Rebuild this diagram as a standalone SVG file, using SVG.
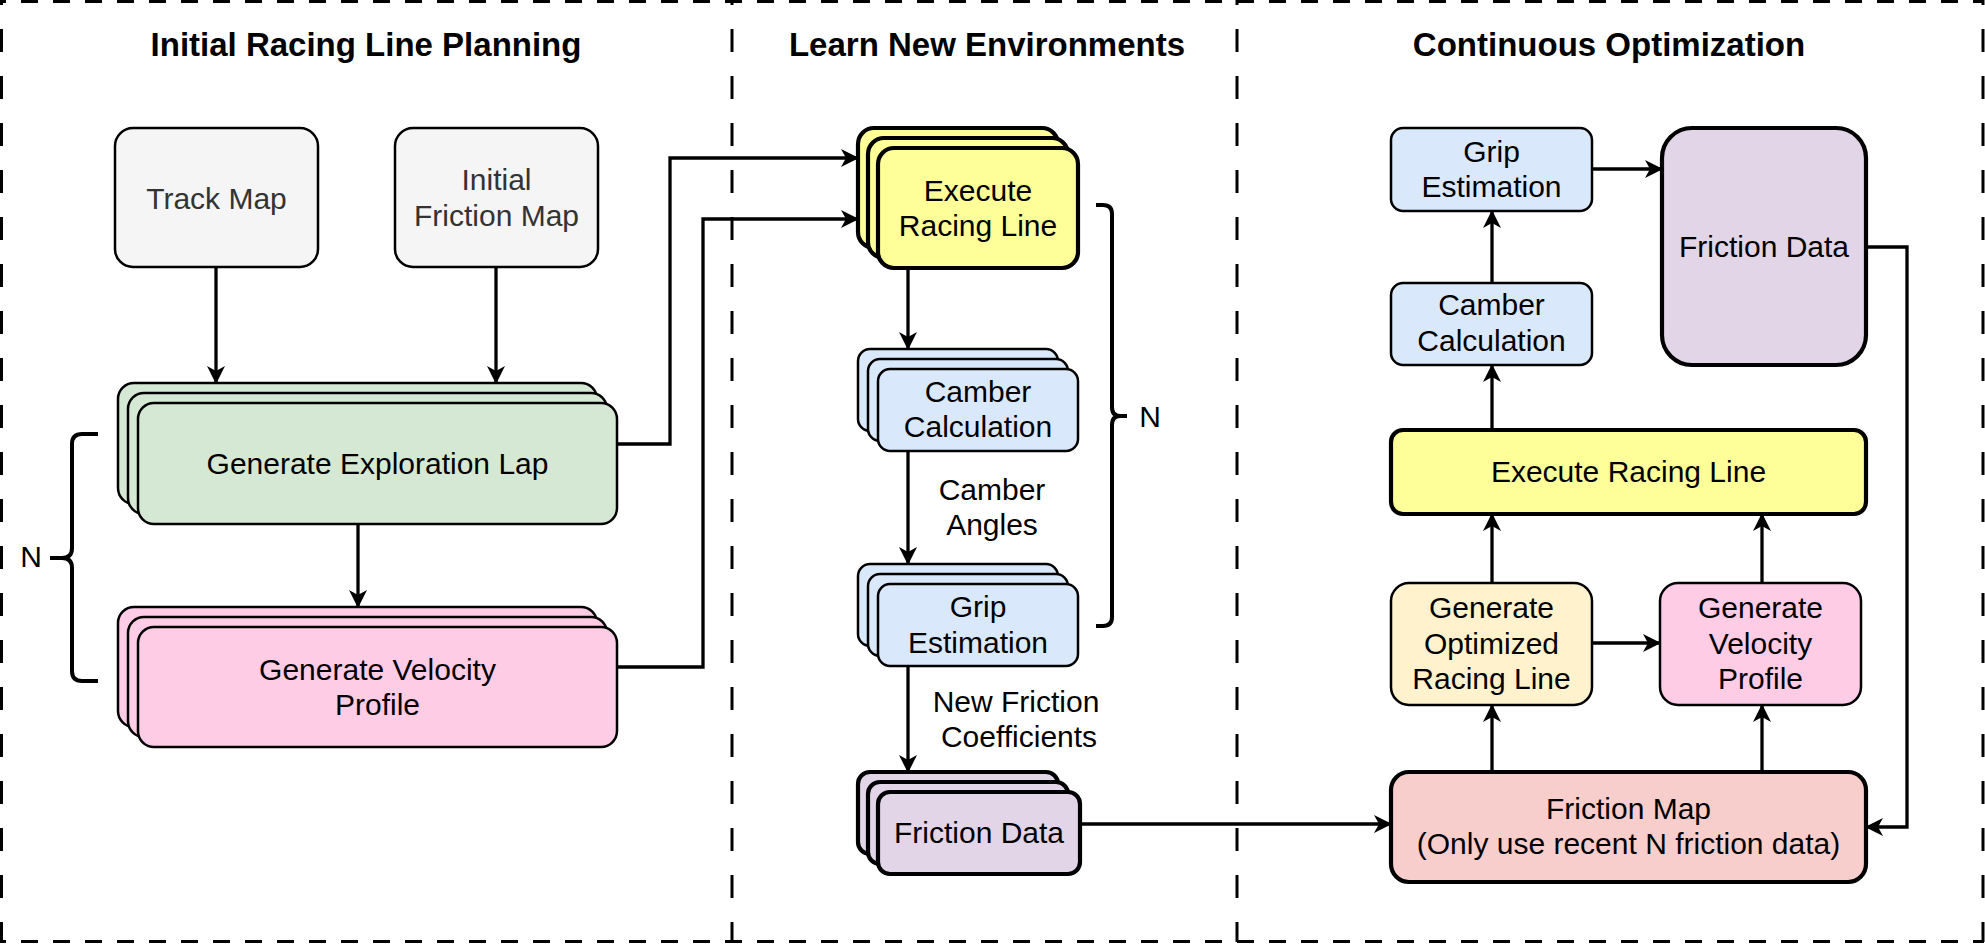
<svg xmlns="http://www.w3.org/2000/svg" width="1985" height="944" viewBox="0 0 1985 944">
<style>
  text { font-family: "Liberation Sans", Arial, Helvetica, sans-serif; font-size: 30px; fill: #000; text-anchor: middle; }
  .title { font-weight: bold; font-size: 33px; }
  .gray { fill: #333333; }
  .fh { fill: none; stroke: #000; stroke-width: 3; stroke-dasharray: 17 15; }
  .fv { fill: none; stroke: #000; stroke-width: 3; stroke-dasharray: 23 24; }
  .n { stroke: #000; stroke-width: 2.5; }
  .t { stroke: #000; stroke-width: 4.2; }
  .conn { fill: none; stroke: #000; stroke-width: 3.3; marker-end: url(#arr); }
  .brace { fill: none; stroke: #000; stroke-width: 4; }
  .grayf { fill: #f5f5f5; }
  .green { fill: #d5e8d4; }
  .pink { fill: #ffcce6; }
  .yellow { fill: #ffff99; }
  .blue { fill: #dae8fc; }
  .purple { fill: #e1d5e7; }
  .orange { fill: #fff2cc; }
  .red { fill: #f8cecc; }
</style>
<defs>
  <marker id="arr" viewBox="0 0 18 18" refX="17" refY="9" markerWidth="18" markerHeight="18" markerUnits="userSpaceOnUse" orient="auto">
    <path d="M0,0 L18,9 L0,18 L5,9 Z" fill="#000"/>
  </marker>
</defs>
<rect width="1985" height="944" fill="#ffffff"/>

<g id="frames">
  <line class="fh" x1="-11" y1="1.5" x2="1984" y2="1.5"/>
  <line class="fh" x1="-11" y1="941.5" x2="1984" y2="941.5"/>
  <line class="fv" x1="1.5" y1="-18" x2="1.5" y2="942"/>
  <line class="fv" x1="732" y1="-18" x2="732" y2="942"/>
  <line class="fv" x1="1237" y1="-18" x2="1237" y2="942"/>
  <line class="fv" x1="1983" y1="-18" x2="1983" y2="942"/>
  <text class="title" x="366" y="56">Initial Racing Line Planning</text>
  <text class="title" x="987" y="56">Learn New Environments</text>
  <text class="title" x="1609" y="56">Continuous Optimization</text>
</g>

<g id="connectors">
  <path class="conn" d="M216,267 V383"/>
  <path class="conn" d="M496,267 V383"/>
  <path class="conn" d="M358,524 V607"/>
  <path class="conn" d="M618,444 H670 V158 H858"/>
  <path class="conn" d="M618,667 H703 V219 H858"/>
  <path class="conn" d="M908,268 V349"/>
  <path class="conn" d="M908,451 V564"/>
  <path class="conn" d="M908,666 V772"/>
  <path class="conn" d="M1080,824 H1391"/>
  <path class="conn" d="M1492,772 V705"/>
  <path class="conn" d="M1762,772 V705"/>
  <path class="conn" d="M1592,643 H1660"/>
  <path class="conn" d="M1492,583 V514"/>
  <path class="conn" d="M1762,583 V514"/>
  <path class="conn" d="M1492,430 V365"/>
  <path class="conn" d="M1492,283 V211"/>
  <path class="conn" d="M1592,169 H1662"/>
  <path class="conn" d="M1866,247 H1907 V827 H1866"/>
</g>

<g id="track-map">
  <rect class="n grayf" x="115" y="128" width="203" height="139" rx="18"/>
  <text class="gray" x="216.5" y="209">Track Map</text>
</g>

<g id="initial-friction-map">
  <rect class="n grayf" x="395" y="128" width="203" height="139" rx="18"/>
  <text class="gray" x="496.5" y="190">Initial</text>
  <text class="gray" x="496.5" y="226">Friction Map</text>
</g>

<g id="generate-exploration-lap">
  <rect class="n green" x="118" y="383" width="479" height="121" rx="16"/>
  <rect class="n green" x="128" y="393" width="479" height="121" rx="16"/>
  <rect class="n green" x="138" y="403" width="479" height="121" rx="16"/>
  <text x="377.5" y="474">Generate Exploration Lap</text>
</g>

<g id="generate-velocity-profile">
  <rect class="n pink" x="118" y="607" width="479" height="120" rx="16"/>
  <rect class="n pink" x="128" y="617" width="479" height="120" rx="16"/>
  <rect class="n pink" x="138" y="627" width="479" height="120" rx="16"/>
  <text x="377.5" y="680">Generate Velocity</text>
  <text x="377.5" y="715">Profile</text>
</g>

<g id="brace-left">
  <path class="brace" d="M98,434 H82 Q72,434 72,444 V548 Q72,558 62,558 H50 M62,558 Q72,558 72,568 V671 Q72,681 82,681 H98"/>
  <text x="31" y="567">N</text>
</g>

<g id="execute-racing-line-stack">
  <rect class="t yellow" x="858" y="128" width="200" height="120" rx="16"/>
  <rect class="t yellow" x="868" y="138" width="200" height="120" rx="16"/>
  <rect class="t yellow" x="878" y="148" width="200" height="120" rx="16"/>
  <text x="978" y="201">Execute</text>
  <text x="978" y="236">Racing Line</text>
</g>

<g id="camber-calculation-stack">
  <rect class="n blue" x="858" y="349" width="200" height="82" rx="12"/>
  <rect class="n blue" x="868" y="359" width="200" height="82" rx="12"/>
  <rect class="n blue" x="878" y="369" width="200" height="82" rx="12"/>
  <text x="978" y="402">Camber</text>
  <text x="978" y="437">Calculation</text>
</g>

<g id="camber-angles-label">
  <text x="992" y="500">Camber</text>
  <text x="992" y="535">Angles</text>
</g>

<g id="grip-estimation-stack">
  <rect class="n blue" x="858" y="564" width="200" height="82" rx="12"/>
  <rect class="n blue" x="868" y="574" width="200" height="82" rx="12"/>
  <rect class="n blue" x="878" y="584" width="200" height="82" rx="12"/>
  <text x="978" y="617">Grip</text>
  <text x="978" y="653">Estimation</text>
</g>

<g id="new-friction-label">
  <text x="1016" y="712">New Friction</text>
  <text x="1019" y="747">Coefficients</text>
</g>

<g id="friction-data-stack">
  <rect class="t purple" x="858" y="772" width="200" height="82" rx="12"/>
  <rect class="t purple" x="868" y="782" width="200" height="82" rx="12"/>
  <rect class="t purple" x="878" y="792" width="202" height="82" rx="12"/>
  <text x="979" y="843">Friction Data</text>
</g>

<g id="brace-mid">
  <path class="brace" d="M1096,205 H1103 Q1112,205 1112,214 V407 Q1112,416 1120,416 H1127 M1120,416 Q1112,416 1112,425 V617 Q1112,626 1103,626 H1096"/>
  <text x="1150" y="427">N</text>
</g>

<g id="grip-estimation">
  <rect class="n blue" x="1391" y="128" width="201" height="83" rx="12"/>
  <text x="1491.5" y="162">Grip</text>
  <text x="1491.5" y="197">Estimation</text>
</g>

<g id="friction-data">
  <rect class="t purple" x="1662" y="128" width="204" height="237" rx="30"/>
  <text x="1764" y="257">Friction Data</text>
</g>

<g id="camber-calculation">
  <rect class="n blue" x="1391" y="283" width="201" height="82" rx="12"/>
  <text x="1491.5" y="315">Camber</text>
  <text x="1491.5" y="351">Calculation</text>
</g>

<g id="execute-racing-line">
  <rect class="t yellow" x="1391" y="430" width="475" height="84" rx="12"/>
  <text x="1628.5" y="482">Execute Racing Line</text>
</g>

<g id="generate-optimized-racing-line">
  <rect class="n orange" x="1391" y="583" width="201" height="122" rx="18"/>
  <text x="1491.5" y="618">Generate</text>
  <text x="1491.5" y="653.5">Optimized</text>
  <text x="1491.5" y="689">Racing Line</text>
</g>

<g id="generate-velocity-profile-2">
  <rect class="n pink" x="1660" y="583" width="201" height="122" rx="18"/>
  <text x="1760.5" y="618">Generate</text>
  <text x="1760.5" y="653.5">Velocity</text>
  <text x="1760.5" y="689">Profile</text>
</g>

<g id="friction-map">
  <rect class="t red" x="1391" y="772" width="475" height="110" rx="18"/>
  <text x="1628.5" y="819">Friction Map</text>
  <text x="1628.5" y="854">(Only use recent N friction data)</text>
</g>
</svg>
